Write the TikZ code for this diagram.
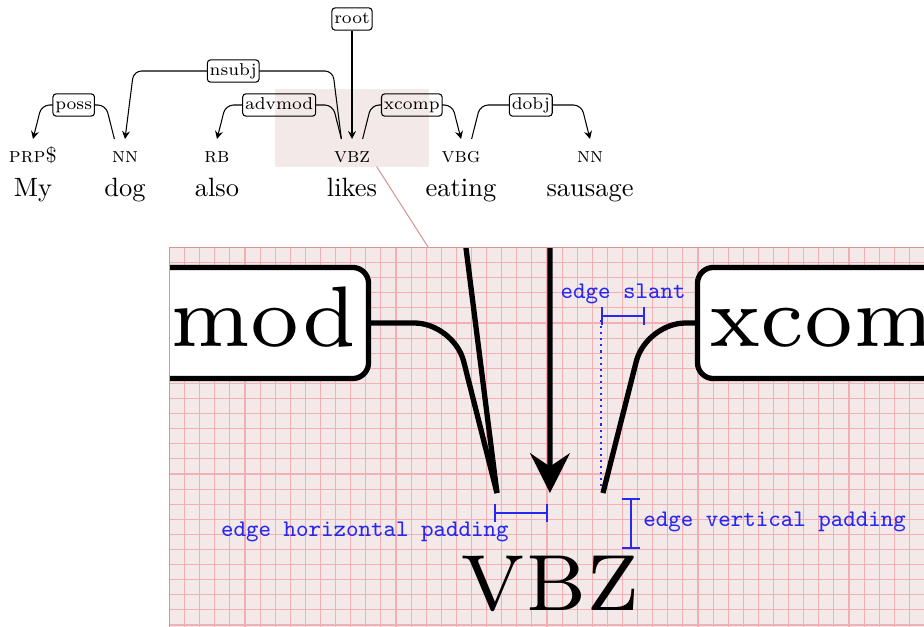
\documentclass[tikz,border=0pt]{standalone}
\usepackage{amsmath}
\usepackage{xcolor}
\usetikzlibrary{calc, arrows.meta, fit}

\definecolor{lensbg}{RGB}{244,233,233}
\definecolor{lensgrid}{RGB}{243,176,180}
\definecolor{lensedge}{RGB}{214,150,150}
\definecolor{notecolor}{RGB}{40,40,240}

\newcommand{\deprad}{3pt}
\newcommand{\labrad}{1.2pt}

\tikzset{
  deparc/.style={draw, rounded corners=\deprad},
  deparrow/.style={deparc, -{Stealth[length=0pt 7.5, width=0pt 7.5, inset=0pt 2.5]}},
  deplabel/.style={draw, fill=white, rounded corners=\labrad, font=\fontsize{6.5}{8}\selectfont,
    inner xsep=0.9pt, inner ysep=1pt, text height=5pt, text depth=1.4pt},
  deptag/.style={anchor=base, font=\footnotesize\scshape},
  depword/.style={anchor=base},
  note/.style={text=notecolor, font=\small\ttfamily},
  notebar/.style={draw=notecolor, thick, {Bar[width=6.5pt]}-{Bar[width=6.5pt]}},
}

\newcommand{\deptree}{%
  %% Tags
  \node [deptag] (t-my) at (33,162.5) {prp\$};
  \node [deptag] (t-dog) at (125,162.5) {nn};
  \node [deptag] (t-also) at (217,162.5) {rb};
  \node [deptag] (t-likes) at (352,162.5) {vbz};
  \node [deptag] (t-eating) at (461,162.5) {vbg};
  \node [deptag] (t-sausage) at (590,162.5) {nn};

  %% Words
  \node [depword] (w-my) at (33,196) {My};
  \node [depword] (w-dog) at (125,196) {dog};
  \node [depword] (w-also) at (217,196) {also};
  \node [depword] (w-likes) at (352,196) {likes};
  \node [depword] (w-eating) at (461,196) {eating};
  \node [depword] (w-sausage) at (590,196) {sausage};

  %% Edge ends
  \coordinate (my) at (33,139);
  \coordinate (dog) at (125,139);
  \coordinate (also) at (217,139);
  \coordinate (likes) at (352,139);
  \coordinate (eating) at (461,139);
  \coordinate (sausage) at (590,139);

  %% Edges
  \draw [deparrow] ($(dog)+(-10.6,0)$) -- ($(dog)+(-19.2,-34)$)
    -- node [deplabel] (poss) {poss} ($(my)+(8.6,-34)$) -- (my);
  \draw [deparrow] ($(likes)+(-10.6,0)$) -- ($(likes)+(-19.2,-68)$)
    -- node [deplabel] (nsubj) {nsubj} ($(dog)+(8.6,-68)$) -- (dog);
  \draw [deparrow] ($(likes)+(-10.6,0)$) -- ($(likes)+(-19.2,-34)$)
    -- node [deplabel] (advmod) {advmod} ($(also)+(8.6,-34)$) -- (also);
  \draw [deparrow] ($(likes)+(10.6,0)$) -- ($(likes)+(19.2,-34)$)
    -- node [deplabel] (xcomp) {xcomp} ($(eating)+(-8.6,-34)$) -- (eating);
  \draw [deparrow] ($(eating)+(10.6,0)$) -- ($(eating)+(19.2,-34)$)
    -- node [deplabel] (dobj) {dobj} ($(sausage)+(-8.6,-34)$) -- (sausage);

  %% Root
  \node [deplabel] (root) at (352,19) {root};
  \draw [deparrow] (root) -- (likes);
}

\begin{document}
\begin{tikzpicture}[x=0.378pt, y=-0.378pt]
  \useasboundingbox (0,0) rectangle (924,626);

  %% Sentence
  \deptree

  %% Lens
  \node (lens) [fit={(276,90) (428,166)}, inner sep=0pt] {};
  \begin{scope}[blend mode=multiply]
    \fill [lensbg] (lens.north west) rectangle (lens.south east);
  \end{scope}

  %% Magnified view
  \node (zoom) [fit={(170,248) (930,628)}, inner sep=0pt] {};
  \begin{scope}
    \clip (zoom.north west) rectangle (zoom.south east);
    \fill [lensbg] (zoom.north west) rectangle (zoom.south east);
    \foreach \i in {0,...,50}
      \draw [lensgrid] ($(zoom.north west)+(15.1*\i,0)$) -- ++(0,390);
    \foreach \j in {0,...,26}
      \draw [lensgrid] ($(zoom.north west)+(0,15.1*\j)$) -- ++(770,0);
    \begin{scope}[shift={(-1210,-202)}, scale=5, transform shape, name prefix=big-, line width=2pt]
      \renewcommand{\deprad}{15pt}
      \renewcommand{\labrad}{6pt}
      \deptree
    \end{scope}
  \end{scope}
  \draw [lensedge] (zoom.north west) rectangle (zoom.south east);
  \draw [lensedge] (lens) -- (zoom);

  %% Notes
  \draw [notebar] (601,316) -- (645,316);
  \node [note] (slant) at (623,294) {edge slant};
  \draw [draw=notecolor, line width=0.8pt, dash pattern=on 0.8pt off 1.5pt] (601,320) -- (601,490);
  \draw [notebar] (494,513) -- (548,513);
  \node [note, anchor=east] (hpad) at (518,532) {edge horizontal padding};
  \draw [notebar] (631,498) -- (631,549);
  \node [note, anchor=west] (vpad) at (634,522) {edge vertical padding};
\end{tikzpicture}
\end{document}
